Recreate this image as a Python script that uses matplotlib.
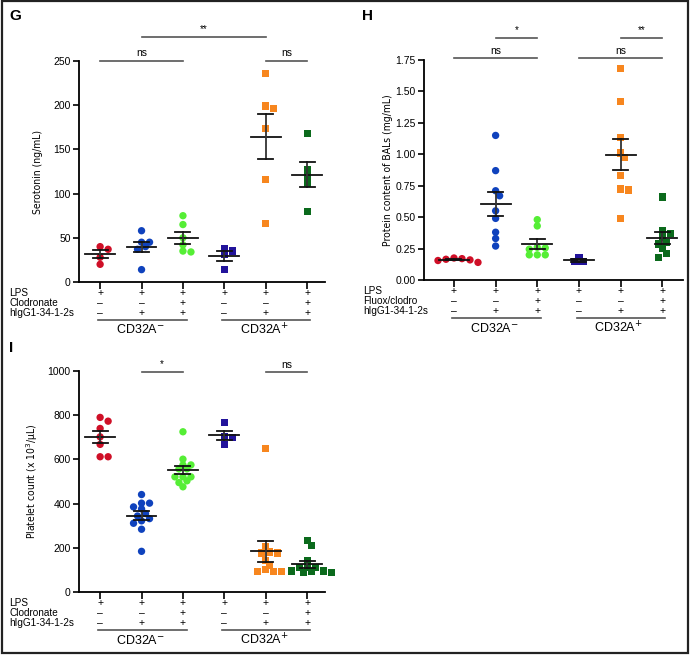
import numpy as np
import matplotlib
matplotlib.use("Agg")
import matplotlib.pyplot as plt
from matplotlib.transforms import blended_transform_factory
from matplotlib.patches import Rectangle

plt.rcParams['font.family'] = ['Liberation Sans', 'DejaVu Sans']

# ---------------- data ----------------
colors = ['#cf0f27', '#0f42bd', '#55ee35', '#22139b', '#f7861e', '#0b6a1c']
markers = ['o', 'o', 'o', 's', 's', 's']

serotonin = [
    [40, 37, 28, 20],
    [58, 45, 40, 37, 45, 14],
    [75, 65, 50, 42, 34, 35],
    [35, 38, 31, 14],
    [236, 199, 196, 174, 116, 66],
    [168, 127, 120, 112, 80],
]
protein = [
    [0.175, 0.17, 0.16, 0.155, 0.14, 0.165],
    [1.15, 0.87, 0.71, 0.67, 0.55, 0.49, 0.38, 0.33, 0.27],
    [0.48, 0.43, 0.26, 0.245, 0.255, 0.20, 0.20, 0.20],
    [0.18, 0.146, 0.146],
    [1.68, 1.42, 1.135, 1.01, 0.975, 0.83, 0.725, 0.715, 0.49],
    [0.66, 0.39, 0.37, 0.34, 0.285, 0.30, 0.25, 0.21, 0.18],
]
platelets = [
    [790, 773, 740, 702, 668, 612, 612],
    [441, 402, 385, 376, 402, 355, 344, 332, 311, 322, 284, 184],
    [725, 601, 575, 575, 557, 557, 521, 521, 521, 503, 495, 476],
    [767, 704, 699, 666],
    [650, 204, 177, 177, 181, 143, 119, 92, 92, 92, 101],
    [233, 211, 143, 110, 110, 110, 89, 89, 95, 95, 92],
]

row_labels_G = ['LPS', 'Clodronate', 'hIgG1-34-1-2s']
row_labels_H = ['LPS', 'Fluox/clodro', 'hIgG1-34-1-2s']
signs = [
    ['+', '+', '+', '+', '+', '+'],
    ['\u2013', '\u2013', '+', '\u2013', '\u2013', '+'],
    ['\u2013', '+', '+', '\u2013', '+', '+'],
]
group_labels = ['CD32A$^{-}$', 'CD32A$^{+}$']

W, H = 691, 655
fig = plt.figure(figsize=(W / 100, H / 100), dpi=100)


def fx(px):
    return px / W


def fy(py):
    return 1 - py / H


# outer frame
fig.patches.append(Rectangle((fx(2), fy(653)), fx(688) - fx(2), fy(1) - fy(653),
                             transform=fig.transFigure, fill=False, lw=1.6,
                             edgecolor='#222222'))


def swarm_offsets(vals, px_per_y, d=5.5, step=4.0):
    vals = np.asarray(vals, float)
    order = np.argsort(-vals)
    placed = []
    offs = np.zeros(len(vals))
    cands = [0.0]
    for k in range(1, 20):
        cands += [k * step, -k * step]
    for i in order:
        yi = vals[i] * px_per_y
        for c in cands:
            ok = True
            for (xo, yo) in placed:
                if (c - xo) ** 2 + (yi - yo) ** 2 < d * d:
                    ok = False
                    break
            if ok:
                offs[i] = c
                placed.append((c, yi))
                break
    return offs


def panel(rect_px, data, ylim, yticks, yticklabels, ylabel, ylabel_x, xlim,
          rows, sigs, letter, letter_pos, row_x):
    left, top, right, bottom = rect_px
    ax = fig.add_axes([fx(left), fy(bottom), fx(right) - fx(left), fy(top) - fy(bottom)])
    ax.set_xlim(*xlim)
    ax.set_ylim(*ylim)
    px_per_x = (right - left) / (xlim[1] - xlim[0])
    px_per_y = (bottom - top) / (ylim[1] - ylim[0])
    for i, vals in enumerate(data):
        offs = swarm_offsets(vals, px_per_y)
        xs = i + offs / px_per_x
        ax.scatter(xs, vals, s=28, marker=markers[i], color=colors[i],
                   edgecolors='none', zorder=3, clip_on=False)
        m = np.mean(vals)
        sem = np.std(vals, ddof=1) / np.sqrt(len(vals))
        ax.plot([i - 0.36, i + 0.36], [m, m], color='#111111', lw=1.3, zorder=4)
        ax.plot([i, i], [m - sem, m + sem], color='#333333', lw=1.3, zorder=4)
        for v in (m - sem, m + sem):
            ax.plot([i - 0.18, i + 0.18], [v, v], color='#111111', lw=1.3, zorder=4)
    for s in ['top', 'right']:
        ax.spines[s].set_visible(False)
    for s in ['left', 'bottom']:
        ax.spines[s].set_linewidth(1.3)
    ax.set_yticks(yticks)
    ax.set_yticklabels(yticklabels)
    ax.set_xticks(range(6))
    ax.set_xticklabels([])
    ax.tick_params(axis='y', labelsize=7.5, length=4, width=1.2, pad=2)
    ax.tick_params(axis='x', length=5, width=1.2)
    ax.set_ylabel(ylabel, fontsize=7.5, family=['DejaVu Sans'], stretch='condensed')
    ax.yaxis.set_label_coords(ylabel_x, 0.5)

    # sign table below
    tr = blended_transform_factory(ax.transData, fig.transFigure)
    row_offsets = [11, 21, 31]
    for r, lab in enumerate(rows):
        fig.text(fx(row_x), fy(bottom + row_offsets[r]), lab, fontsize=7.2,
                 ha='left', va='center')
        for i in range(6):
            fig.text(i, fy(bottom + row_offsets[r]), signs[r][i], transform=tr,
                     fontsize=7.5, ha='center', va='center')
    for g, (a, b) in enumerate([(-0.05, 2.1), (2.95, 5.07)]):
        ax.plot([a, b], [fy(bottom + 38)] * 2, transform=tr, color='#555555',
                lw=1.2, clip_on=False)
        fig.text((a + b) / 2 - 0.05, fy(bottom + 48), group_labels[g], transform=tr,
                 fontsize=9, ha='center', va='center')

    # significance bars
    for (a, b, ypx, txt) in sigs:
        yv = ylim[1] + (top - ypx) / px_per_y
        ax.plot([a, b], [yv, yv], color='#555555', lw=1.2, clip_on=False)
        ax.text((a + b) / 2, yv + 2.5 / px_per_y, txt, fontsize=7.5 if txt == 'ns' else 7,
                ha='center', va='bottom')
    fig.text(fx(letter_pos[0]), fy(letter_pos[1]), letter, fontsize=11,
             fontweight='bold', ha='left', va='center')
    return ax


panel((79, 61, 325, 282), serotonin, (0, 250), [0, 50, 100, 150, 200, 250],
      ['0', '50', '100', '150', '200', '250'], 'Serotonin (ng/mL)', -0.148,
      (-0.51, 5.43), row_labels_G,
      [(0, 2, 61, 'ns'), (4, 5, 61, 'ns'), (1, 4, 37, '**')],
      'G', (9, 16), 9)

panel((424, 60, 683, 280), protein, (0, 1.75), [0, 0.25, 0.5, 0.75, 1.0, 1.25, 1.5, 1.75],
      ['0.00', '0.25', '0.50', '0.75', '1.00', '1.25', '1.50', '1.75'],
      'Protein content of BALs (mg/mL)', -0.12, (-0.72, 5.5), row_labels_H,
      [(0, 2, 58, 'ns'), (3, 5, 58, 'ns'), (1, 2, 38, '*'), (4, 5, 38, '**')],
      'H', (362, 16), 363)

panel((79, 371, 325, 592), platelets, (0, 1000), [0, 200, 400, 600, 800, 1000],
      ['0', '200', '400', '600', '800', '1000'],
      'Platelet count (x 10$^3$/\u03bcL)', -0.16, (-0.51, 5.43), row_labels_G,
      [(1, 2, 372, '*'), (4, 5, 372, 'ns')],
      'I', (9, 348), 9)

fig.savefig('out.png', dpi=100)
